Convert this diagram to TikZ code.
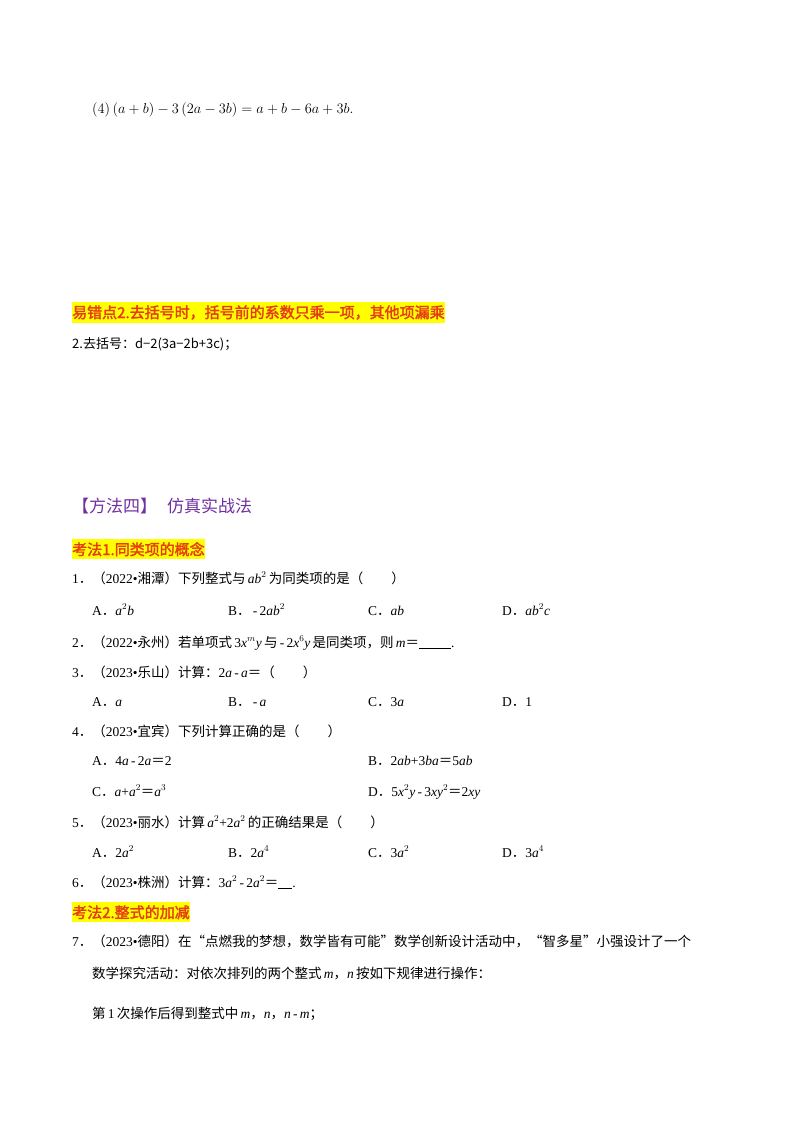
\documentclass[tikz,border=0pt]{standalone}
\usepackage{fontspec}
\setmainfont{Liberation Serif}
\newfontfamily\cjk{Noto Sans CJK SC}
\newfontfamily\cjkb[FakeBold=2]{Noto Sans CJK SC}
\usepackage{tikz}
\definecolor{hlyellow}{RGB}{255,255,0}
\definecolor{hlred}{RGB}{230,60,20}
\definecolor{methodpurple}{RGB}{112,48,160}
\newcommand{\mi}[1]{\textit{#1}}
\newcommand{\blank}[1]{\underline{\hspace{#1}}}
\newcommand{\dd}{{\cjk ．}}
\newcommand{\eqs}{{\cjk ＝}}

\begin{document}
\begin{tikzpicture}[x=1pt,y=-1pt]
    \tikzset{line/.style={anchor=base west, inner sep=0pt, font=\fontsize{13.5}{16}\selectfont},
      head/.style={line, fill=hlyellow, text=hlred, inner ysep=3pt, inner xsep=0pt, font=\cjkb\fontsize{15}{18}\selectfont},
      method/.style={line, text=methodpurple, font=\cjk\fontsize{17}{20}\selectfont}}
      \useasboundingbox (0,0) rectangle (800,1132);
      %previous part
      \node[line] (eqfour) at (92,113) {$(4)\,(a+b)-3\,(2a-3b)=a+b-6a+3b.$};
      \node[head] (errtwo) at (72,318) {易错点2.去括号时，括号前的系数只乘一项，其他项漏乘};
      \node[line, font=\cjk\fontsize{13}{16}\selectfont] (qtwo) at (72,348) {2.去括号：d−2(3a−2b+3c)；};
      %method four
      \node[method] (methfour) at (72,512) {【方法四】\hspace{10pt}仿真实战法};
      \node[head] (kfone) at (72,555) {考法1.同类项的概念};
      \node[line] (pone) at (72,583) {1\dd{\cjk（}2022•{\cjk 湘潭）下列整式与}\,\mi{ab}$^2$\,{\cjk 为同类项的是（\hspace{28pt}）}};
      \node[line] (ponea) at (92,615) {A\dd\mi{a}$^2$\mi{b}};
      \node[line] (poneb) at (228,615) {B\dd\,-\,2\mi{ab}$^2$};
      \node[line] (ponec) at (368,615) {C\dd\mi{ab}};
      \node[line] (poned) at (502,615) {D\dd\mi{ab}$^2$\mi{c}};
      \node[line] (ptwo) at (72,647) {2\dd{\cjk（}2022•{\cjk 永州）若单项式}\,3\mi{x}$^m$\mi{y}\,{\cjk 与}\,-\,2\mi{x}$^6$\mi{y}\,{\cjk 是同类项，则}\,\mi{m}\eqs\blank{32pt}.};
      \node[line] (pthree) at (72,677) {3\dd{\cjk（}2023•{\cjk 乐山）计算：}2\mi{a}\,-\,\mi{a}\eqs{\cjk（\hspace{28pt}）}};
      \node[line] (pthreea) at (92,706) {A\dd\mi{a}};
      \node[line] (pthreeb) at (228,706) {B\dd\,-\,\mi{a}};
      \node[line] (pthreec) at (368,706) {C\dd 3\mi{a}};
      \node[line] (pthreed) at (502,706) {D\dd 1};
      \node[line] (pfour) at (72,736) {4\dd{\cjk（}2023•{\cjk 宜宾）下列计算正确的是（\hspace{28pt}）}};
      \node[line] (pfoura) at (92,765) {A\dd 4\mi{a}\,-\,2\mi{a}\eqs 2};
      \node[line] (pfourb) at (368,765) {B\dd 2\mi{ab}+3\mi{ba}\eqs 5\mi{ab}};
      \node[line] (pfourc) at (92,796) {C\dd\mi{a}+\mi{a}$^2$\eqs\mi{a}$^3$};
      \node[line] (pfourd) at (368,796) {D\dd 5\mi{x}$^2$\mi{y}\,-\,3\mi{xy}$^2$\eqs 2\mi{xy}};
      \node[line] (pfive) at (72,827) {5\dd{\cjk（}2023•{\cjk 丽水）计算}\,\mi{a}$^2$+2\mi{a}$^2$\,{\cjk 的正确结果是（\hspace{28pt}）}};
      \node[line] (pfivea) at (92,857) {A\dd 2\mi{a}$^2$};
      \node[line] (pfiveb) at (228,857) {B\dd 2\mi{a}$^4$};
      \node[line] (pfivec) at (368,857) {C\dd 3\mi{a}$^2$};
      \node[line] (pfived) at (502,857) {D\dd 3\mi{a}$^4$};
      \node[line] (psix) at (72,887) {6\dd{\cjk（}2023•{\cjk 株洲）计算：}3\mi{a}$^2$\,-\,2\mi{a}$^2$\eqs\blank{14pt}.};
      \node[head] (kftwo) at (72,918) {考法2.整式的加减};
      \node[line] (pseven) at (72,946) {7\dd{\cjk（}2023•{\cjk 德阳）在“点燃我的梦想，数学皆有可能”数学创新设计活动中，“智多星”小强设计了一个}};
      \node[line] (psevenb) at (92,978) {{\cjk 数学探究活动：对依次排列的两个整式}\,\mi{m}{\cjk ，}\mi{n}\,{\cjk 按如下规律进行操作：}};
      \node[line] (psevenc) at (92,1018) {{\cjk 第}\,1\,{\cjk 次操作后得到整式中}\,\mi{m}{\cjk ，}\mi{n}{\cjk ，}\mi{n}\,-\,\mi{m}{\cjk ；}};
    \end{tikzpicture}
\end{document}
